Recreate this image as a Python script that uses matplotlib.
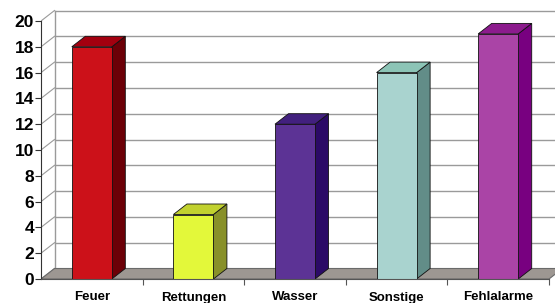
import numpy as np
import matplotlib.pyplot as plt
from matplotlib.patches import Polygon

# Daten
kategorien = ['Feuer', 'Rettungen', 'Wasser', 'Sonstige', 'Fehlalarme']
werte = [18, 5, 12, 16, 19]
farbe_vorne = ['#cc1119', '#e3f83a', '#5c3395', '#a9d3cf', '#aa44a6']
farbe_seite = ['#6c0007', '#889029', '#2b0a66', '#628d88', '#780080']
farbe_oben = ['#a3000f', '#c1d12f', '#42207e', '#8cc4b6', '#8c1b8d']

W, H = 555, 303
fig = plt.figure(figsize=(W / 100, H / 100), dpi=100)

# Pixelgeometrie -> Datenkoordinaten
px_x = 101.6      # Pixel pro Kategorie
px_y = 12.9       # Pixel pro Werteinheit
x0_px, y0_px = 41, 279
ax = fig.add_axes([x0_px / W, (H - y0_px) / H, (W - x0_px) / W, (y0_px - 5) / H])
ax.set_xlim(-0.5, -0.5 + (W - x0_px) / px_x)
ax.set_ylim(0, (y0_px - 5) / px_y)
ax.patch.set_visible(False)

dx = 13.5 / px_x
dy = 10.5 / px_y
n = len(kategorien)
xr = n - 0.5
grid_c = '#9a9a9a'

# Rueckwand und Seitenwand
for v in range(0, 21, 2):
    ax.plot([-0.5 + dx, xr + dx + 0.2], [v + dy, v + dy], color=grid_c, lw=1, zorder=1)
    ax.plot([-0.5, -0.5 + dx], [v, v + dy], color=grid_c, lw=0.8, zorder=1)
ax.plot([-0.5 + dx, -0.5 + dx], [dy, 20 + dy], color=grid_c, lw=1, zorder=1)

# Boden
boden = Polygon([(-0.5, 0), (xr, 0), (xr + dx, dy), (-0.5 + dx, dy)],
                closed=True, facecolor='#9d9792', edgecolor='#6a6a6a', lw=0.8, zorder=2)
ax.add_patch(boden)

# Balken
b = 0.197
for i, v in enumerate(werte):
    l, r = i - b, i + b
    seite = Polygon([(r, 0), (r + dx, dy), (r + dx, v + dy), (r, v)],
                    facecolor=farbe_seite[i], edgecolor='#111111', lw=0.6, zorder=3)
    oben = Polygon([(l, v), (r, v), (r + dx, v + dy), (l + dx, v + dy)],
                   facecolor=farbe_oben[i], edgecolor='#111111', lw=0.6, zorder=3)
    ax.add_patch(seite)
    ax.add_patch(oben)
    ax.bar(i, v, width=2 * b, color=farbe_vorne[i], edgecolor='#111111', lw=0.6, zorder=4)

# Achsen
for s in ['top', 'right']:
    ax.spines[s].set_visible(False)
ax.spines['left'].set_bounds(0, 20)
ax.spines['bottom'].set_bounds(-0.5, xr)
ax.spines['left'].set_color('#333333')
ax.spines['bottom'].set_color('#555555')
ax.spines['left'].set_zorder(5)
ax.spines['bottom'].set_zorder(5)

ax.set_yticks(range(0, 21, 2))
ax.set_yticklabels([str(v) for v in range(0, 21, 2)],
                   fontfamily='Liberation Sans', fontweight='bold', fontsize=12.5)
ax.tick_params(axis='y', length=4, width=0.8, pad=1, color='#333333')

ax.set_xticks(range(n))
ax.set_xticklabels(kategorien, fontfamily='Liberation Sans', fontweight='bold', fontsize=9.5)
ax.tick_params(axis='x', which='major', length=0, pad=9)
ax.set_xticks(np.arange(0.5, n, 1.0), minor=True)
ax.tick_params(axis='x', which='minor', length=4, width=0.8, color='#555555')

fig.savefig('out.png', dpi=100)
